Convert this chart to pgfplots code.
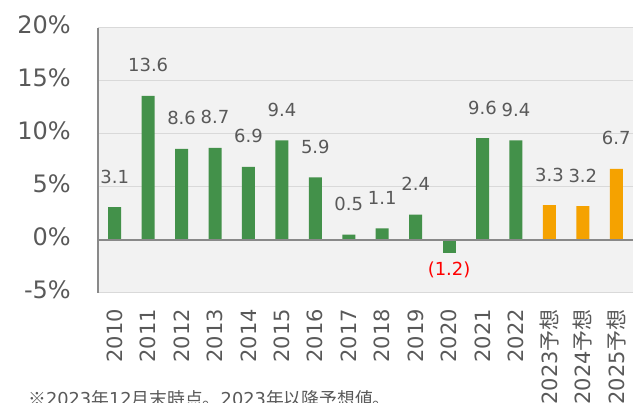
\documentclass[border=0pt]{standalone}
\usepackage{pgfplots}
\pgfplotsset{compat=1.18}
\usepackage{fontspec}
\setmainfont{DejaVu Sans}
\newfontfamily\cjk{Noto Sans CJK JP}
\definecolor{txt}{RGB}{89,89,89}
\definecolor{barg}{RGB}{67,145,74}
\definecolor{baro}{RGB}{245,162,0}
\definecolor{bg}{RGB}{242,242,242}
\definecolor{grd}{RGB}{217,217,217}
\definecolor{axl}{RGB}{137,137,137}
\begin{document}
\begin{tikzpicture}[x=1pt,y=1pt]
\path[use as bounding box] (0,0) rectangle (640,403);
\clip (0,0) rectangle (640,403);
\begin{axis}[
  at={(98pt,110pt)}, anchor=south west,
  scale only axis, width=535pt, height=265pt,
  xmin=-0.5, xmax=15.5, ymin=-5, ymax=20,
  clip=false,
  axis background/.style={fill=bg},
  axis line style={draw=none},
  ytick={-5,0,5,10,15,20},
  yticklabels={-5\%,0\%,5\%,10\%,15\%,20\%},
  ymajorgrids, grid style={grd, line width=1pt},
  major tick length=0pt,
  yticklabel style={font=\fontsize{24}{24}\selectfont, text=txt, inner sep=0pt, yshift=3.5pt},
  yticklabel shift=27pt,
  xtick={0,...,15},
  xticklabels={2010,2011,2012,2013,2014,2015,2016,2017,2018,2019,2020,2021,2022,2023{\cjk 予想},2024{\cjk 予想},2025{\cjk 予想}},
  xticklabel style={font=\fontsize{21}{21}\selectfont, text=txt, inner sep=0pt, anchor=east, rotate=90},
  xticklabel shift=16pt,
  ybar, bar width=13pt,
  point meta=explicit symbolic,
  nodes near coords,
  every node near coord/.append style={font=\fontsize{18}{18}\selectfont, text=txt, anchor=base, inner sep=0pt, yshift=24pt},
]
\addplot[ybar, bar shift=0pt, fill=barg, draw=none] coordinates {
(0,3.1)[3.1] (1,13.6)[13.6] (2,8.6)[8.6] (3,8.7)[8.7] (4,6.9)[6.9] (5,9.4)[9.4] (6,5.9)[5.9] (7,0.5)[0.5] (8,1.1)[1.1] (9,2.4)[2.4] (11,9.6)[9.6] (12,9.4)[9.4]
};
\addplot[ybar, bar shift=0pt, fill=barg, draw=none,
  every node near coord/.append style={text=red, yshift=-46.5pt}] coordinates {
(10,-1.2)[(1.2)]
};
\addplot[ybar, bar shift=0pt, fill=baro, draw=none] coordinates {
(13,3.3)[3.3] (14,3.2)[3.2] (15,6.7)[6.7]
};
\draw[axl, line width=1.5pt] (axis cs:-0.5,-5) -- (axis cs:-0.5,20);
\draw[axl, line width=2pt] (axis cs:-0.5,0) -- (axis cs:15.5,0);
\end{axis}
\node[anchor=north west, inner sep=0pt, text=txt, font=\fontsize{17.8}{17.8}\selectfont] at (28,13) {{\cjk ※}2023{\cjk 年}12{\cjk 月末時点。}2023{\cjk 年以降予想値。}};
\end{tikzpicture}
\end{document}
